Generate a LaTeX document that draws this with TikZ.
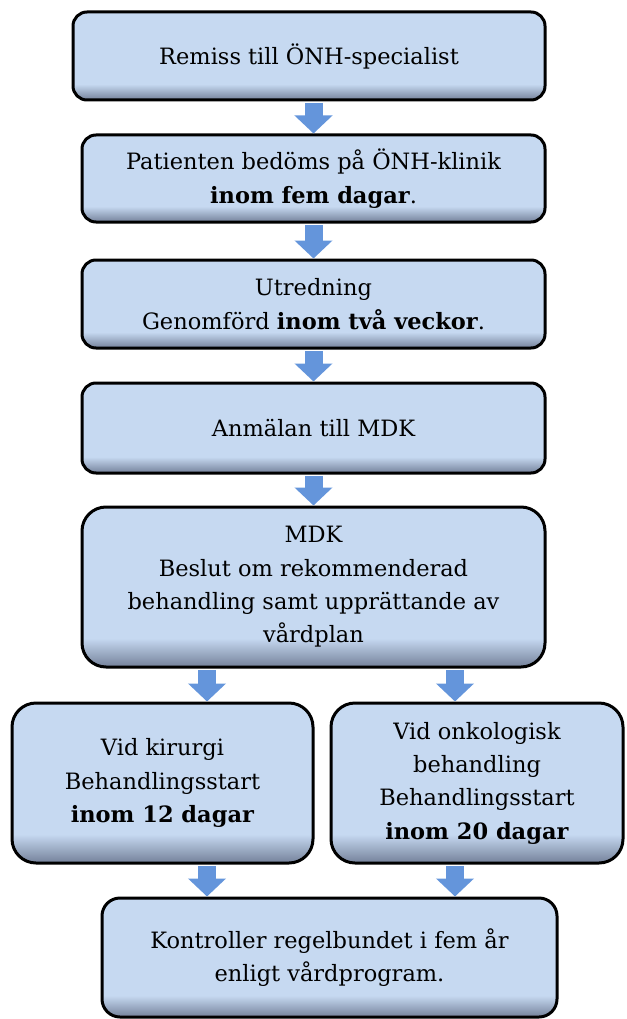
\documentclass[tikz,border=0pt]{standalone}
\usepackage{fontspec}
\setmainfont{DejaVu Serif}
\usetikzlibrary{arrows.meta}
\definecolor{boxblue}{HTML}{C6D9F1}
\definecolor{boxgray}{HTML}{74819A}
\definecolor{arrowblue}{HTML}{6495DB}
\pgfdeclareverticalshading{boxshade}{100bp}{color(0bp)=(boxgray); color(25bp)=(boxgray); color(34bp)=(boxblue); color(100bp)=(boxblue)}
\begin{document}
\begin{tikzpicture}[x=1pt,y=-1pt,
  flowbox/.style={draw=black, line width=3pt, shading=boxshade, align=center, inner sep=0pt,
    font=\fontsize{22.5}{33.3}\selectfont},
  flowarrow/.style={draw=arrowblue, line width=18pt, shorten <=1.5pt, -{Triangle[width=37pt,length=18pt]}}]
\useasboundingbox (0,0) rectangle (626,1019);
\node[flowbox, rounded corners=14pt, minimum width=472pt, minimum height=88pt] (remiss) at (309,56) {Remiss till ÖNH-specialist};
\node[flowbox, rounded corners=14pt, minimum width=463pt, minimum height=87pt] (klinik) at (313.5,178.5) {Patienten bedöms på ÖNH-klinik \\ \textbf{inom fem dagar}.};
\node[flowbox, rounded corners=14pt, minimum width=463pt, minimum height=88pt] (utredning) at (313.5,304) {Utredning \\ Genomförd \textbf{inom två veckor}.};
\node[flowbox, rounded corners=14pt, minimum width=463pt, minimum height=90pt] (anmalan) at (313.5,428) {Anmälan till MDK};
\node[flowbox, rounded corners=24pt, minimum width=463pt, minimum height=160pt] (mdk) at (313.5,587) {MDK \\ Beslut om rekommenderad \\ behandling samt upprättande av \\ vårdplan};
\node[flowbox, rounded corners=24pt, minimum width=301pt, minimum height=160pt] (kirurgi) at (162.5,783) {Vid kirurgi \\ Behandlingsstart \\ \textbf{inom 12 dagar}};
\node[flowbox, rounded corners=24pt, minimum width=292pt, minimum height=160pt] (onkologi) at (477,783) {Vid onkologisk \\ behandling \\ Behandlingsstart \\ \textbf{inom 20 dagar}};
\node[flowbox, rounded corners=18pt, minimum width=455pt, minimum height=119pt] (kontroll) at (329.5,957.5) {Kontroller regelbundet i fem år \\ enligt vårdprogram.};
% pilar
\coordinate (vanster) at (207,0);
\coordinate (hoger) at (455,0);
\draw[flowarrow] (remiss.south -| klinik.north) -- (klinik.north);
\draw[flowarrow] (klinik.south) -- (utredning.north);
\draw[flowarrow] (utredning.south) -- (anmalan.north);
\draw[flowarrow] (anmalan.south) -- (mdk.north);
\draw[flowarrow] (mdk.south -| vanster) -- (kirurgi.north -| vanster);
\draw[flowarrow] (mdk.south -| hoger) -- (onkologi.north -| hoger);
\draw[flowarrow] (kirurgi.south -| vanster) -- (kontroll.north -| vanster);
\draw[flowarrow] (onkologi.south -| hoger) -- (kontroll.north -| hoger);
\end{tikzpicture}
\end{document}
